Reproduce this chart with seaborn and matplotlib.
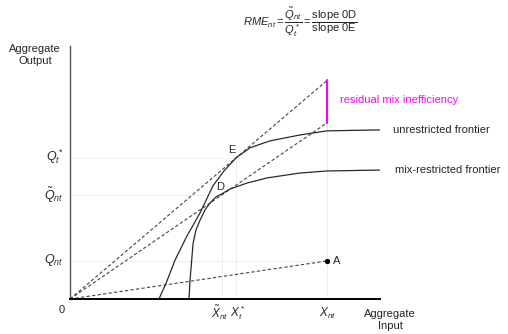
import numpy as np
import pandas as pd
import matplotlib
matplotlib.use("Agg")
import matplotlib.pyplot as plt
import seaborn as sns

# frontier points (input, output)
unr_x = [3.46, 3.74, 4.09, 4.55, 5.06, 5.56, 5.99, 6.46, 7.00, 7.78, 8.95, 10.0, 12.26]
unr_y = [0.00, 0.62, 1.52, 2.45, 3.35, 4.40, 4.98, 5.49, 5.88, 6.15, 6.38, 6.54, 6.58]
mix_x = [4.63, 4.67, 4.79, 4.90, 5.06, 5.25, 5.45, 5.68, 5.91, 6.23, 6.89, 7.67, 8.95, 10.0, 12.37]
mix_y = [0.00, 0.74, 2.18, 2.68, 3.07, 3.46, 3.74, 3.97, 4.09, 4.28, 4.51, 4.71, 4.90, 4.98, 5.02]

# key points
X_nt, Q_nt = 10.0, 1.48          # A
X_t, Q_t = 6.46, 5.49            # E
X_tn, Q_tn = 5.91, 4.05          # D

sns.set_theme(style="white")
plt.rcParams["font.family"] = ["Liberation Sans", "DejaVu Sans"]
plt.rcParams["mathtext.fontset"] = "custom"
plt.rcParams["mathtext.rm"] = "Liberation Sans"
plt.rcParams["mathtext.it"] = "Liberation Sans:italic"

W, H = 508, 334
fig = plt.figure(figsize=(W / 100, H / 100), dpi=100)
ax = fig.add_axes([70 / W, 35 / H, 310 / W, 253 / H])
ax.set_xlim(0, 12.06)
ax.set_ylim(0, 9.84)

def ftext(x, y, s, **kw):
    fig.text(x / W, 1 - y / H, s, **kw)

# faint guide lines
guide = dict(color="#eeeeee", lw=0.7, zorder=0)
ax.plot([0, X_t], [Q_t, Q_t], **guide)
ax.plot([0, X_tn], [Q_tn, Q_tn], **guide)
ax.plot([0, X_nt], [Q_nt, Q_nt], **guide)
ax.plot([X_t, X_t], [0, Q_t], **guide)
ax.plot([X_tn, X_tn], [0, Q_tn], **guide)
ax.plot([X_nt, X_nt], [0, Q_tn / X_tn * X_nt], **guide)

# rays from the origin
dash = dict(color="#444444", lw=0.8, ls=(0, (3, 2)))
ax.plot([0, X_nt], [0, Q_t / X_t * X_nt], **dash)
ax.plot([0, X_nt], [0, Q_tn / X_tn * X_nt], **dash)
ax.plot([0, X_nt], [0, Q_nt], **dash)

# frontiers
frontiers = pd.concat([
    pd.DataFrame({"x": unr_x, "y": unr_y, "f": "unrestricted"}),
    pd.DataFrame({"x": mix_x, "y": mix_y, "f": "mix"}),
])
sns.lineplot(data=frontiers, x="x", y="y", units="f", estimator=None, sort=False,
             color="#2a2a2a", lw=0.9, ax=ax)

# residual mix inefficiency
ax.plot([X_nt, X_nt], [Q_tn / X_tn * X_nt, Q_t / X_t * X_nt], color="#ff00ff", lw=1.5)
ax.scatter([X_nt], [Q_nt], s=8, color="black", zorder=5)

ax.set_xlabel("")
ax.set_ylabel("")
ax.set_xticks([])
ax.set_yticks([])
for s in ["top", "right"]:
    ax.spines[s].set_visible(False)
ax.spines["left"].set_color("#555555")
ax.spines["left"].set_linewidth(1.0)
ax.spines["bottom"].set_color("black")
ax.spines["bottom"].set_linewidth(1.4)

fs = 8
ftext(300, 22, r"$RME_{nt}=\dfrac{\tilde{Q}_{nt}}{Q^*_t}=\dfrac{\mathrm{slope\ 0D}}{\mathrm{slope\ 0E}}$",
      ha="center", va="center", fontsize=fs)
ftext(35, 55, "Aggregate\nOutput", ha="center", va="center", fontsize=fs, linespacing=1.35)
ftext(390, 320, "Aggregate\nInput", ha="center", va="center", fontsize=fs, linespacing=1.35)
ftext(63, 157, r"$Q^*_t$", ha="right", va="center", fontsize=fs + 1)
ftext(63, 195, r"$\tilde{Q}_{nt}$", ha="right", va="center", fontsize=fs + 1)
ftext(63, 260, r"$Q_{nt}$", ha="right", va="center", fontsize=fs + 1)
ftext(62, 310, "0", ha="center", va="center", fontsize=fs)
ftext(220, 313, r"$\tilde{X}_{nt}$", ha="center", va="center", fontsize=fs + 0.5)
ftext(238, 313, r"$X^*_t$", ha="center", va="center", fontsize=fs + 0.5)
ftext(328, 313, r"$X_{nt}$", ha="center", va="center", fontsize=fs + 0.5)
ftext(232, 150, "E", ha="center", va="center", fontsize=fs)
ftext(220, 187, "D", ha="center", va="center", fontsize=fs)
ftext(337, 261, "A", ha="center", va="center", fontsize=fs)
ftext(340, 100, "residual mix inefficiency", ha="left", va="center", fontsize=fs, color="#ff00ff")
ftext(393, 130, "unrestricted frontier", ha="left", va="center", fontsize=fs)
ftext(395, 170, "mix-restricted frontier", ha="left", va="center", fontsize=fs)

fig.savefig("out.png", dpi=100)
